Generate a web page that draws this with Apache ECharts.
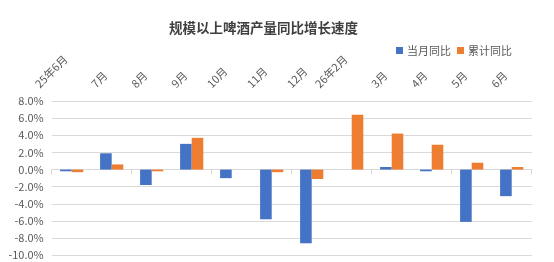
<!DOCTYPE html>
<html>
<head>
<meta charset="utf-8">
<script src="https://cdn.jsdelivr.net/npm/echarts@6/dist/echarts.min.js"></script>
<style>
html,body{margin:0;padding:0;background:#fff;}
#chart{width:554px;height:262px;}
</style>
</head>
<body>
<div id="chart"></div>
<script>
const categories = ['25年6月','7月','8月','9月','10月','11月','12月','26年2月','3月','4月','5月','6月'];
const monthYoY = [-0.2, 1.9, -1.8, 3.0, -1.0, -5.8, -8.6, null, 0.3, -0.2, -6.1, -3.1];
const cumYoY = [-0.3, 0.6, -0.2, 3.7, 0, -0.3, -1.1, 6.4, 4.2, 2.9, 0.8, 0.3];
const seriesNames = ['当月同比', '累计同比'];
const titleText = '规模以上啤酒产量同比增长速度';

const font = "'Noto Sans CJK SC', sans-serif";
const labelColor = '#595959';

// rotated top labels: shift each one perpendicular by an amount tied to its width,
// so that the label boxes end at a common right edge / bottom line (as in the reference)
const measureCtx = document.createElement('canvas').getContext('2d');
measureCtx.font = "11px 'Noto Sans CJK SC', sans-serif";
const rich = {};
categories.forEach((c, i) => {
  const w = measureCtx.measureText(c).width;
  rich['c' + i] = {
    fontSize: 11,
    color: labelColor,
    fontFamily: font,
    padding: [0, 0, Math.round(7 + w + 11), 0]
  };
});

const chart = echarts.init(document.getElementById('chart'), null, {renderer: 'canvas'});
chart.setOption({
  animation: false,
  backgroundColor: '#ffffff',
  textStyle: {fontFamily: font},
  title: {
    text: titleText,
    left: 169,
    top: 21,
    padding: 0,
    textStyle: {fontSize: 13.5, fontWeight: 'bold', color: '#404040', fontFamily: font}
  },
  legend: {
    right: 42,
    top: 45,
    padding: 0,
    itemWidth: 7,
    itemHeight: 7,
    itemGap: 6,
    icon: 'rect',
    textStyle: {fontSize: 11, color: labelColor, fontFamily: font, padding: [0, 0, 0, -1]},
    data: seriesNames
  },
  grid: {left: 51.7, right: 22.3, top: 101, bottom: 6.7, containLabel: false},
  xAxis: [
    {
      type: 'category',
      data: categories,
      position: 'bottom',
      axisLine: {show: true, onZero: true, lineStyle: {color: '#d9d9d9', width: 1}},
      axisTick: {show: true, length: 5, lineStyle: {color: '#d9d9d9'}},
      axisLabel: {show: false},
      splitLine: {show: false}
    },
    {
      type: 'category',
      data: categories,
      position: 'top',
      axisLine: {show: false, onZero: false},
      axisTick: {show: false},
      splitLine: {show: false},
      axisLabel: {
        show: true,
        interval: 0,
        rotate: -45,
        align: 'center',
        verticalAlign: 'middle',
        margin: 9,
        fontSize: 11,
        color: labelColor,
        fontFamily: font,
        formatter: (value, index) => '{c' + index + '|' + value + '}',
        rich: rich
      }
    }
  ],
  yAxis: {
    type: 'value',
    min: -10,
    max: 8,
    interval: 2,
    axisLine: {show: false},
    axisTick: {show: false},
    splitLine: {show: true, lineStyle: {color: '#d9d9d9', width: 1}},
    axisLabel: {
      fontSize: 11,
      color: labelColor,
      margin: 8,
      fontFamily: font,
      formatter: v => v.toFixed(1) + '%'
    }
  },
  series: [
    {
      name: seriesNames[0],
      type: 'bar',
      xAxisIndex: 0,
      data: monthYoY,
      barGap: '0%',
      barCategoryGap: '42%',
      itemStyle: {color: '#4472C4'}
    },
    {
      name: seriesNames[1],
      type: 'bar',
      xAxisIndex: 0,
      data: cumYoY,
      barGap: '0%',
      barCategoryGap: '42%',
      itemStyle: {color: '#ED7D31'}
    }
  ]
});
</script>
</body>
</html>
